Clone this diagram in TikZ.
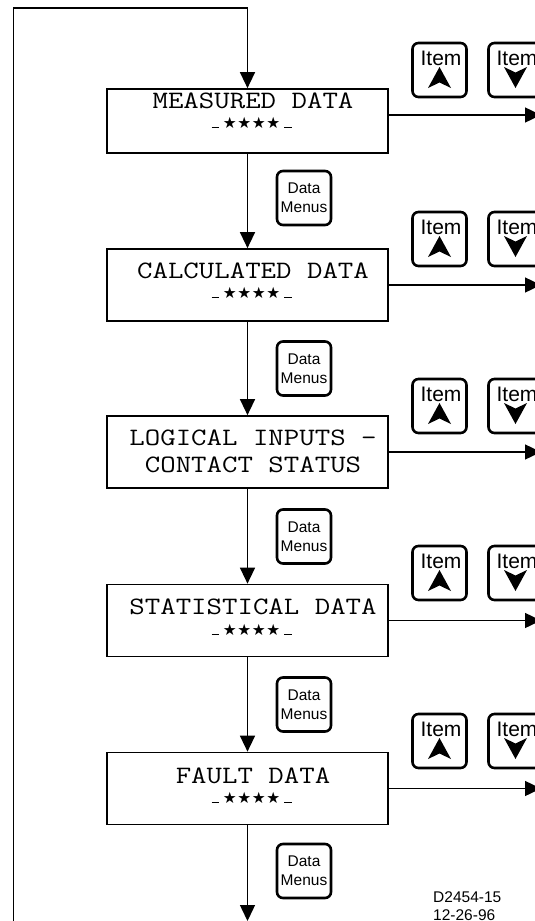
\documentclass[tikz,border=0pt]{standalone}
\usepackage{fontspec}
\usepackage{graphicx}
\usetikzlibrary{arrows.meta}
\newfontfamily\helv{Liberation Sans}
\newfontfamily\symfont{DejaVu Sans}
% menu titles: stretched typewriter face
\newcommand{\menutext}[1]{\scalebox{1.2}[1]{\fontsize{25}{30}\selectfont\ttfamily #1}}
% the "-****-" marker line
\newcommand{\starcell}{\makebox[14.5pt]{\symfont\fontsize{15.5}{15.5}\selectfont ★}}
\newcommand{\dashcell}{\makebox[14.5pt]{\rule{7.5pt}{1pt}}}
\newcommand{\starrow}{\dashcell\starcell\starcell\starcell\starcell\dashcell}

\tikzset{
  boxst/.style={draw, line width=1.7pt, minimum width=281pt, minimum height=72pt, inner sep=0pt},
  keyst/.style={draw, line width=2.6pt, rounded corners=6pt, minimum width=54pt, minimum height=54pt, inner sep=0pt},
  conn/.style={line width=1.4pt, -{Triangle[width=15pt,length=16pt]}},
  title/.style={anchor=base, inner sep=0pt},
  keylbl/.style={anchor=base, inner sep=0pt, font=\helv\fontsize{21}{24}\selectfont},
  menulbl/.style={align=center, font=\helv\fontsize{15.5}{19}\selectfont},
}

% pair of Item up / Item down keys, #1 = name suffix, #2 = top edge
\newcommand{\itemkeys}[2]{%
  \node[keyst] (up#1) at (439.5,#2+27) {};
  \node[keylbl] (upl#1) at (441,#2+22) {Item};
  \fill (439.5,#2+24) -- (451,#2+45) -- (439.5,#2+39.5) -- (428,#2+45) -- cycle;
  \node[keyst] (dn#1) at (515.5,#2+27) {};
  \node[keylbl] (dnl#1) at (517,#2+22) {Item};
  \fill (515.5,#2+45) -- (527,#2+24) -- (515.5,#2+29.5) -- (504,#2+24) -- cycle;
}

\begin{document}
\begin{tikzpicture}[x=1pt, y=-1pt]
\useasboundingbox (0,0) rectangle (535,921);
\clip (0,0) rectangle (535,921);
\fill[white] (0,0) rectangle (535,921);

% menu boxes
\node[boxst, minimum height=64pt] (b1) at (247.5,121) {};
\node[boxst] (b2) at (247.5,285) {};
\node[boxst] (b3) at (247.5,452) {};
\node[boxst] (b4) at (247.5,620.5) {};
\node[boxst] (b5) at (247.5,788.5) {};

% box texts
\node[title] (t1) at (253,108.5) {\menutext{MEASURED DATA}};
\node[title] (s1) at (251.5,128) {\starrow};
\node[title] (t2) at (253,278.5) {\menutext{CALCULATED DATA}};
\node[title] (s2) at (251.5,298) {\starrow};
\node[title] (t3a) at (253,445.5) {\menutext{LOGICAL INPUTS -}};
\node[title] (t3b) at (253,472) {\menutext{CONTACT STATUS}};
\node[title] (t4) at (253,614.5) {\menutext{STATISTICAL DATA}};
\node[title] (s4) at (251.5,635) {\starrow};
\node[title] (t5) at (253,783.5) {\menutext{FAULT DATA}};
\node[title] (s5) at (251.5,803) {\starrow};

% Data Menus keys
\node[keyst, menulbl] (dm1) at (304,198) {Data\\Menus};
\node[keyst, menulbl] (dm2) at (304,368.5) {Data\\Menus};
\node[keyst, menulbl] (dm3) at (304,536.5) {Data\\Menus};
\node[keyst, menulbl] (dm4) at (304,704.5) {Data\\Menus};
\node[keyst, menulbl] (dm5) at (304,871) {Data\\Menus};

% Item keys
\itemkeys{1}{43}
\itemkeys{2}{212}
\itemkeys{3}{379}
\itemkeys{4}{546}
\itemkeys{5}{714}

% loop back to the first menu
\coordinate (lb) at (13.5,930);
\coordinate (lt) at (13.5,8);
\draw[conn] (lb) -- (lt) -- (b1.north |- lt) -- (b1.north);

% downward steps
\draw[conn] (b1.south) -- (b2.north);
\draw[conn] (b2.south) -- (b3.north);
\draw[conn] (b3.south) -- (b4.north);
\draw[conn] (b4.south) -- (b5.north);
\coordinate (out) at (247.5,921);
\draw[conn] (b5.south) -- (out);

% item arrows to the right
\coordinate (r1) at (541,115);
\draw[conn] (b1.east |- r1) -- (r1);
\draw[conn] (b2.east) -- (b2.east -| r1);
\draw[conn] (b3.east) -- (b3.east -| r1);
\draw[conn] (b4.east) -- (b4.east -| r1);
\draw[conn] (b5.east) -- (b5.east -| r1);

% drawing number
\node[anchor=base west, inner sep=0pt, font=\helv\fontsize{15.5}{19}\selectfont] (dno) at (433,902) {D2454-15};
\node[anchor=base west, inner sep=0pt, font=\helv\fontsize{15.5}{19}\selectfont] (ddate) at (433,920) {12-26-96};
\end{tikzpicture}
\end{document}
